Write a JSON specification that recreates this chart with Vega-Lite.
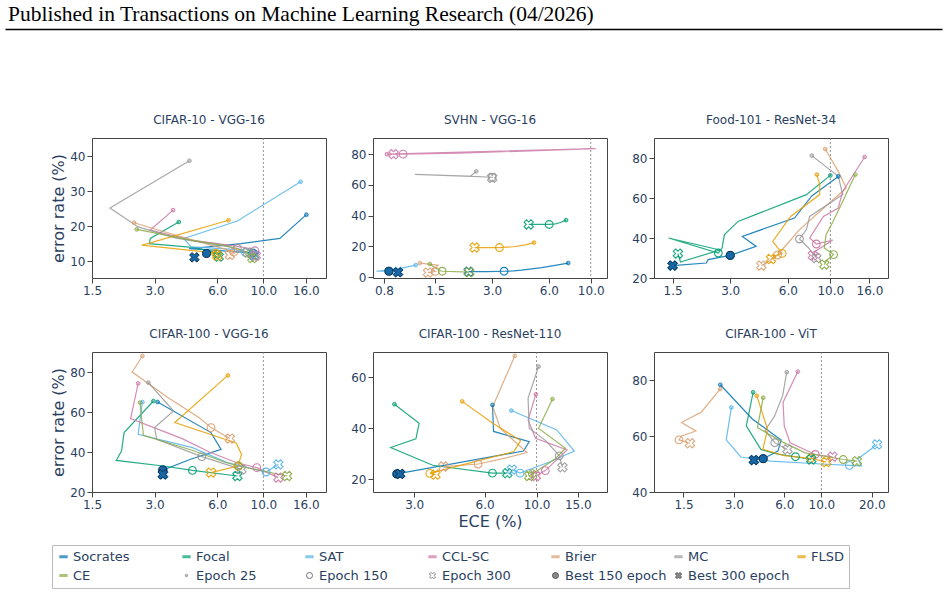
{
  "$schema": "https://vega.github.io/schema/vega-lite/v6.json",
  "padding": {"left": 5, "top": 3, "right": 5, "bottom": 4},
  "config": {
    "font": "DejaVu Sans",
    "view": {"stroke": "#444", "strokeWidth": 1},
    "axis": {"grid": false, "domain": false, "ticks": true, "tickSize": 5, "tickColor": "#444", "tickWidth": 1,
      "labelFont": "DejaVu Sans", "labelFontSize": 12, "labelColor": "#2a3f5f", "labelPadding": 2, "labelFlush": false, "labelOverlap": false,
      "titleFont": "DejaVu Sans", "titleFontSize": 16, "titleFontWeight": "normal", "titleColor": "#2a3f5f", "titlePadding": 3},
    "title": {"font": "DejaVu Sans", "fontSize": 12, "fontWeight": "normal", "color": "#2a3f5f", "offset": 11, "baseline": "alphabetic"},
    "legend": {"labelFont": "DejaVu Sans", "labelFontSize": 13, "labelColor": "#2a3f5f"}
  },
  "datasets": {
    "ref": [{"ece": 10}],
    "best": [
      {"p": 1, "kind": "b150", "ece": 5.33, "err": 12.2}, {"p": 1, "kind": "b300", "ece": 4.66, "err": 11.1},
      {"p": 2, "kind": "b150", "ece": 0.85, "err": 3.9}, {"p": 2, "kind": "b300", "ece": 0.95, "err": 3.2},
      {"p": 3, "kind": "b150", "ece": 3.0, "err": 31.3}, {"p": 3, "kind": "b300", "ece": 1.5, "err": 26.2},
      {"p": 4, "kind": "b150", "ece": 3.28, "err": 31.0}, {"p": 4, "kind": "b300", "ece": 3.28, "err": 28.8},
      {"p": 5, "kind": "b150", "ece": 2.53, "err": 22.1}, {"p": 5, "kind": "b300", "ece": 2.61, "err": 22.1},
      {"p": 6, "kind": "b150", "ece": 4.49, "err": 51.9}, {"p": 6, "kind": "b300", "ece": 3.95, "err": 51.4}
    ],
    "runs": [
      {"p":1,"m":"Socrates","ep":25,"ece":16.1,"err":23.3},{"p":1,"m":"Socrates","ep":50,"ece":12.0,"err":16.5},{"p":1,"m":"Socrates","ep":75,"ece":7.8,"err":15.0},{"p":1,"m":"Socrates","ep":100,"ece":5.0,"err":13.9},{"p":1,"m":"Socrates","ep":125,"ece":4.4,"err":13.6},{"p":1,"m":"Socrates","ep":150,"ece":8.9,"err":12.4},{"p":1,"m":"Socrates","ep":200,"ece":9.2,"err":12.0},{"p":1,"m":"Socrates","ep":300,"ece":9.0,"err":11.7},
      {"p":1,"m":"Focal","ep":25,"ece":3.92,"err":21.2},{"p":1,"m":"Focal","ep":50,"ece":2.86,"err":16.5},{"p":1,"m":"Focal","ep":75,"ece":2.83,"err":15.0},{"p":1,"m":"Focal","ep":100,"ece":4.7,"err":13.9},{"p":1,"m":"Focal","ep":125,"ece":5.6,"err":12.8},{"p":1,"m":"Focal","ep":150,"ece":6.0,"err":12.0},{"p":1,"m":"Focal","ep":200,"ece":6.1,"err":11.7},{"p":1,"m":"Focal","ep":300,"ece":6.1,"err":11.3},
      {"p":1,"m":"SAT","ep":25,"ece":15.1,"err":32.7},{"p":1,"m":"SAT","ep":50,"ece":7.5,"err":21.5},{"p":1,"m":"SAT","ep":75,"ece":4.14,"err":16.5},{"p":1,"m":"SAT","ep":100,"ece":4.5,"err":14.1},{"p":1,"m":"SAT","ep":125,"ece":7.2,"err":13.4},{"p":1,"m":"SAT","ep":150,"ece":8.2,"err":12.5},{"p":1,"m":"SAT","ep":200,"ece":8.6,"err":12.0},{"p":1,"m":"SAT","ep":300,"ece":9.0,"err":11.6},
      {"p":1,"m":"CCL-SC","ep":25,"ece":3.68,"err":24.6},{"p":1,"m":"CCL-SC","ep":50,"ece":2.86,"err":18.9},{"p":1,"m":"CCL-SC","ep":75,"ece":4.5,"err":16.0},{"p":1,"m":"CCL-SC","ep":100,"ece":7.4,"err":14.3},{"p":1,"m":"CCL-SC","ep":125,"ece":8.6,"err":13.6},{"p":1,"m":"CCL-SC","ep":150,"ece":9.1,"err":13.0},{"p":1,"m":"CCL-SC","ep":200,"ece":9.3,"err":12.2},{"p":1,"m":"CCL-SC","ep":300,"ece":9.2,"err":11.6},
      {"p":1,"m":"Brier","ep":25,"ece":2.39,"err":21.0},{"p":1,"m":"Brier","ep":50,"ece":3.3,"err":18.5},{"p":1,"m":"Brier","ep":75,"ece":4.5,"err":16.2},{"p":1,"m":"Brier","ep":100,"ece":5.8,"err":14.3},{"p":1,"m":"Brier","ep":125,"ece":6.8,"err":13.2},{"p":1,"m":"Brier","ep":150,"ece":7.2,"err":12.6},{"p":1,"m":"Brier","ep":200,"ece":7.0,"err":12.2},{"p":1,"m":"Brier","ep":300,"ece":6.9,"err":11.8},
      {"p":1,"m":"MC","ep":25,"ece":4.41,"err":38.7},{"p":1,"m":"MC","ep":50,"ece":1.83,"err":25.2},{"p":1,"m":"MC","ep":75,"ece":2.5,"err":19.8},{"p":1,"m":"MC","ep":100,"ece":3.8,"err":16.6},{"p":1,"m":"MC","ep":125,"ece":5.8,"err":14.8},{"p":1,"m":"MC","ep":150,"ece":7.5,"err":13.7},{"p":1,"m":"MC","ep":200,"ece":8.0,"err":13.0},{"p":1,"m":"MC","ep":300,"ece":8.4,"err":12.5},
      {"p":1,"m":"FLSD","ep":25,"ece":6.8,"err":21.7},{"p":1,"m":"FLSD","ep":50,"ece":2.7,"err":14.8},{"p":1,"m":"FLSD","ep":75,"ece":2.6,"err":14.6},{"p":1,"m":"FLSD","ep":100,"ece":4.45,"err":13.1},{"p":1,"m":"FLSD","ep":125,"ece":5.4,"err":12.6},{"p":1,"m":"FLSD","ep":150,"ece":5.9,"err":12.2},{"p":1,"m":"FLSD","ep":200,"ece":6.0,"err":11.9},{"p":1,"m":"FLSD","ep":300,"ece":6.0,"err":11.6},
      {"p":1,"m":"CE","ep":25,"ece":2.46,"err":19.1},{"p":1,"m":"CE","ep":50,"ece":3.3,"err":17.6},{"p":1,"m":"CE","ep":75,"ece":4.6,"err":15.9},{"p":1,"m":"CE","ep":100,"ece":6.5,"err":14.5},{"p":1,"m":"CE","ep":125,"ece":7.8,"err":13.2},{"p":1,"m":"CE","ep":150,"ece":8.6,"err":12.1},{"p":1,"m":"CE","ep":200,"ece":8.8,"err":11.5},{"p":1,"m":"CE","ep":300,"ece":8.85,"err":10.9},

      {"p":2,"m":"Socrates","ep":25,"ece":7.6,"err":9.2},{"p":2,"m":"Socrates","ep":50,"ece":5.5,"err":6.2},{"p":2,"m":"Socrates","ep":75,"ece":4.3,"err":4.6},{"p":2,"m":"Socrates","ep":100,"ece":3.9,"err":4.1},{"p":2,"m":"Socrates","ep":150,"ece":3.47,"err":3.9},{"p":2,"m":"Socrates","ep":200,"ece":2.8,"err":3.7},{"p":2,"m":"Socrates","ep":300,"ece":2.25,"err":3.6},
      {"p":2,"m":"Focal","ep":25,"ece":7.4,"err":37.1},{"p":2,"m":"Focal","ep":50,"ece":6.9,"err":35.6},{"p":2,"m":"Focal","ep":100,"ece":6.5,"err":34.7},{"p":2,"m":"Focal","ep":150,"ece":6.02,"err":34.3},{"p":2,"m":"Focal","ep":300,"ece":4.69,"err":34.3},
      {"p":2,"m":"SAT","ep":25,"ece":1.18,"err":7.9},{"p":2,"m":"SAT","ep":50,"ece":0.98,"err":5.8},{"p":2,"m":"SAT","ep":75,"ece":0.73,"err":3.9},{"p":2,"m":"SAT","ep":100,"ece":0.78,"err":3.9},{"p":2,"m":"SAT","ep":150,"ece":0.85,"err":3.9},{"p":2,"m":"SAT","ep":300,"ece":0.95,"err":3.4},
      {"p":2,"m":"CCL-SC","ep":25,"ece":0.83,"err":80.0},{"p":2,"m":"CCL-SC","ep":50,"ece":10.6,"err":83.6},{"p":2,"m":"CCL-SC","ep":75,"ece":2.0,"err":80.6},{"p":2,"m":"CCL-SC","ep":100,"ece":1.2,"err":80.2},{"p":2,"m":"CCL-SC","ep":150,"ece":1.01,"err":80.0},{"p":2,"m":"CCL-SC","ep":300,"ece":0.9,"err":80.0},
      {"p":2,"m":"Brier","ep":25,"ece":1.24,"err":9.2},{"p":2,"m":"Brier","ep":50,"ece":1.55,"err":7.8},{"p":2,"m":"Brier","ep":75,"ece":1.45,"err":5.0},{"p":2,"m":"Brier","ep":150,"ece":1.5,"err":3.8},{"p":2,"m":"Brier","ep":300,"ece":1.37,"err":3.0},
      {"p":2,"m":"MC","ep":25,"ece":2.47,"err":68.8},{"p":2,"m":"MC","ep":50,"ece":2.3,"err":65.6},{"p":2,"m":"MC","ep":75,"ece":1.17,"err":66.9},{"p":2,"m":"MC","ep":100,"ece":2.2,"err":65.7},{"p":2,"m":"MC","ep":150,"ece":3.0,"err":65.0},{"p":2,"m":"MC","ep":300,"ece":3.0,"err":64.6},
      {"p":2,"m":"FLSD","ep":25,"ece":5.0,"err":22.5},{"p":2,"m":"FLSD","ep":50,"ece":4.5,"err":21.0},{"p":2,"m":"FLSD","ep":100,"ece":3.9,"err":19.8},{"p":2,"m":"FLSD","ep":150,"ece":3.28,"err":19.3},{"p":2,"m":"FLSD","ep":300,"ece":2.42,"err":19.3},
      {"p":2,"m":"CE","ep":25,"ece":1.4,"err":8.6},{"p":2,"m":"CE","ep":50,"ece":1.5,"err":6.0},{"p":2,"m":"CE","ep":100,"ece":1.6,"err":4.2},{"p":2,"m":"CE","ep":150,"ece":1.63,"err":3.9},{"p":2,"m":"CE","ep":300,"ece":2.27,"err":3.3},

      {"p":3,"m":"Socrates","ep":25,"ece":11.0,"err":70.8},{"p":3,"m":"Socrates","ep":50,"ece":8.0,"err":61.0},{"p":3,"m":"Socrates","ep":75,"ece":6.5,"err":50.0},{"p":3,"m":"Socrates","ep":100,"ece":3.47,"err":40.8},{"p":3,"m":"Socrates","ep":125,"ece":4.1,"err":35.8},{"p":3,"m":"Socrates","ep":150,"ece":3.0,"err":31.3},{"p":3,"m":"Socrates","ep":200,"ece":2.3,"err":29.2},{"p":3,"m":"Socrates","ep":250,"ece":2.25,"err":27.5},{"p":3,"m":"Socrates","ep":300,"ece":1.5,"err":26.2},
      {"p":3,"m":"Focal","ep":25,"ece":10.0,"err":71.3},{"p":3,"m":"Focal","ep":50,"ece":7.5,"err":61.7},{"p":3,"m":"Focal","ep":75,"ece":3.3,"err":48.3},{"p":3,"m":"Focal","ep":100,"ece":2.8,"err":41.7},{"p":3,"m":"Focal","ep":125,"ece":2.72,"err":35.0},{"p":3,"m":"Focal","ep":150,"ece":2.6,"err":32.5},{"p":3,"m":"Focal","ep":175,"ece":1.43,"err":40.0},{"p":3,"m":"Focal","ep":200,"ece":2.65,"err":34.0},{"p":3,"m":"Focal","ep":250,"ece":1.65,"err":28.0},{"p":3,"m":"Focal","ep":300,"ece":1.6,"err":32.2},
      {"p":3,"m":"FLSD","ep":25,"ece":8.5,"err":71.7},{"p":3,"m":"FLSD","ep":50,"ece":8.8,"err":66.7},{"p":3,"m":"FLSD","ep":75,"ece":8.8,"err":61.7},{"p":3,"m":"FLSD","ep":100,"ece":6.2,"err":50.8},{"p":3,"m":"FLSD","ep":125,"ece":5.0,"err":38.3},{"p":3,"m":"FLSD","ep":150,"ece":5.6,"err":32.3},{"p":3,"m":"FLSD","ep":200,"ece":5.1,"err":31.0},{"p":3,"m":"FLSD","ep":300,"ece":4.9,"err":29.5},
      {"p":3,"m":"Brier","ep":25,"ece":9.4,"err":84.5},{"p":3,"m":"Brier","ep":50,"ece":11.0,"err":73.3},{"p":3,"m":"Brier","ep":75,"ece":12.1,"err":65.0},{"p":3,"m":"Brier","ep":100,"ece":6.9,"err":44.2},{"p":3,"m":"Brier","ep":125,"ece":5.7,"err":35.0},{"p":3,"m":"Brier","ep":150,"ece":5.3,"err":31.5},{"p":3,"m":"Brier","ep":200,"ece":4.8,"err":28.5},{"p":3,"m":"Brier","ep":300,"ece":4.36,"err":26.2},
      {"p":3,"m":"MC","ep":25,"ece":8.0,"err":81.2},{"p":3,"m":"MC","ep":50,"ece":11.0,"err":70.8},{"p":3,"m":"MC","ep":75,"ece":11.6,"err":61.7},{"p":3,"m":"MC","ep":100,"ece":7.8,"err":50.8},{"p":3,"m":"MC","ep":125,"ece":7.5,"err":44.2},{"p":3,"m":"MC","ep":150,"ece":6.9,"err":39.5},{"p":3,"m":"MC","ep":200,"ece":7.7,"err":35.0},{"p":3,"m":"MC","ep":300,"ece":8.45,"err":30.0},
      {"p":3,"m":"CCL-SC","ep":25,"ece":15.1,"err":80.5},{"p":3,"m":"CCL-SC","ep":50,"ece":11.6,"err":63.3},{"p":3,"m":"CCL-SC","ep":75,"ece":11.0,"err":55.0},{"p":3,"m":"CCL-SC","ep":100,"ece":9.2,"err":50.8},{"p":3,"m":"CCL-SC","ep":125,"ece":7.8,"err":40.0},{"p":3,"m":"CCL-SC","ep":150,"ece":8.45,"err":37.0},{"p":3,"m":"CCL-SC","ep":200,"ece":10.3,"err":39.0},{"p":3,"m":"CCL-SC","ep":250,"ece":8.4,"err":33.5},{"p":3,"m":"CCL-SC","ep":300,"ece":8.1,"err":31.3},
      {"p":3,"m":"CE","ep":25,"ece":13.5,"err":71.7},{"p":3,"m":"CE","ep":50,"ece":11.6,"err":58.3},{"p":3,"m":"CE","ep":75,"ece":10.3,"err":48.0},{"p":3,"m":"CE","ep":100,"ece":9.5,"err":41.7},{"p":3,"m":"CE","ep":125,"ece":9.3,"err":35.0},{"p":3,"m":"CE","ep":150,"ece":10.4,"err":31.7},{"p":3,"m":"CE","ep":200,"ece":9.6,"err":29.0},{"p":3,"m":"CE","ep":300,"ece":9.3,"err":26.7},

      {"p":4,"m":"Socrates","ep":25,"ece":3.1,"err":65.0},{"p":4,"m":"Socrates","ep":50,"ece":5.6,"err":49.7},{"p":4,"m":"Socrates","ep":75,"ece":6.26,"err":41.3},{"p":4,"m":"Socrates","ep":100,"ece":4.5,"err":36.5},{"p":4,"m":"Socrates","ep":150,"ece":3.3,"err":31.0},{"p":4,"m":"Socrates","ep":300,"ece":3.3,"err":28.8},
      {"p":4,"m":"Focal","ep":25,"ece":2.96,"err":65.5},{"p":4,"m":"Focal","ep":50,"ece":2.14,"err":49.7},{"p":4,"m":"Focal","ep":75,"ece":2.08,"err":40.5},{"p":4,"m":"Focal","ep":100,"ece":1.96,"err":35.8},{"p":4,"m":"Focal","ep":125,"ece":3.3,"err":33.0},{"p":4,"m":"Focal","ep":150,"ece":4.56,"err":30.8},{"p":4,"m":"Focal","ep":300,"ece":7.5,"err":28.0},
      {"p":4,"m":"SAT","ep":25,"ece":2.62,"err":65.0},{"p":4,"m":"SAT","ep":50,"ece":2.5,"err":48.8},{"p":4,"m":"SAT","ep":75,"ece":4.56,"err":42.2},{"p":4,"m":"SAT","ep":100,"ece":6.7,"err":34.7},{"p":4,"m":"SAT","ep":150,"ece":10.3,"err":30.0},{"p":4,"m":"SAT","ep":300,"ece":11.8,"err":33.8},
      {"p":4,"m":"CCL-SC","ep":25,"ece":2.5,"err":74.3},{"p":4,"m":"CCL-SC","ep":50,"ece":2.3,"err":56.7},{"p":4,"m":"CCL-SC","ep":75,"ece":4.07,"err":46.7},{"p":4,"m":"CCL-SC","ep":100,"ece":5.5,"err":40.0},{"p":4,"m":"CCL-SC","ep":125,"ece":7.5,"err":34.5},{"p":4,"m":"CCL-SC","ep":150,"ece":9.3,"err":32.2},{"p":4,"m":"CCL-SC","ep":300,"ece":11.8,"err":27.2},
      {"p":4,"m":"Brier","ep":25,"ece":2.62,"err":88.0},{"p":4,"m":"Brier","ep":50,"ece":2.34,"err":80.0},{"p":4,"m":"Brier","ep":75,"ece":3.5,"err":67.0},{"p":4,"m":"Brier","ep":100,"ece":4.9,"err":57.2},{"p":4,"m":"Brier","ep":150,"ece":5.6,"err":52.2},{"p":4,"m":"Brier","ep":300,"ece":6.9,"err":46.7},
      {"p":4,"m":"MC","ep":25,"ece":2.8,"err":74.7},{"p":4,"m":"MC","ep":50,"ece":3.7,"err":60.5},{"p":4,"m":"MC","ep":75,"ece":3.0,"err":52.2},{"p":4,"m":"MC","ep":100,"ece":3.07,"err":46.3},{"p":4,"m":"MC","ep":150,"ece":5.06,"err":37.7},{"p":4,"m":"MC","ep":300,"ece":7.85,"err":31.3},
      {"p":4,"m":"FLSD","ep":25,"ece":6.75,"err":78.3},{"p":4,"m":"FLSD","ep":50,"ece":3.75,"err":54.7},{"p":4,"m":"FLSD","ep":75,"ece":7.4,"err":44.5},{"p":4,"m":"FLSD","ep":100,"ece":7.85,"err":38.8},{"p":4,"m":"FLSD","ep":150,"ece":7.55,"err":33.0},{"p":4,"m":"FLSD","ep":300,"ece":5.6,"err":29.7},
      {"p":4,"m":"CE","ep":25,"ece":2.55,"err":64.7},{"p":4,"m":"CE","ep":50,"ece":2.65,"err":48.3},{"p":4,"m":"CE","ep":75,"ece":4.5,"err":41.0},{"p":4,"m":"CE","ep":100,"ece":6.5,"err":35.0},{"p":4,"m":"CE","ep":150,"ece":7.6,"err":33.0},{"p":4,"m":"CE","ep":300,"ece":13.0,"err":28.0},

      {"p":5,"m":"Socrates","ep":25,"ece":6.48,"err":49.2},{"p":5,"m":"Socrates","ep":50,"ece":6.55,"err":38.8},{"p":5,"m":"Socrates","ep":75,"ece":9.3,"err":34.8},{"p":5,"m":"Socrates","ep":100,"ece":8.8,"err":31.1},{"p":5,"m":"Socrates","ep":150,"ece":2.53,"err":22.1},{"p":5,"m":"Socrates","ep":300,"ece":2.61,"err":22.1},
      {"p":5,"m":"Focal","ep":25,"ece":2.47,"err":49.5},{"p":5,"m":"Focal","ep":50,"ece":3.15,"err":42.0},{"p":5,"m":"Focal","ep":75,"ece":3.05,"err":35.9},{"p":5,"m":"Focal","ep":100,"ece":2.38,"err":32.5},{"p":5,"m":"Focal","ep":125,"ece":3.6,"err":25.5},{"p":5,"m":"Focal","ep":150,"ece":6.48,"err":22.4},{"p":5,"m":"Focal","ep":300,"ece":7.5,"err":22.4},
      {"p":5,"m":"SAT","ep":25,"ece":7.8,"err":47.0},{"p":5,"m":"SAT","ep":50,"ece":12.2,"err":39.4},{"p":5,"m":"SAT","ep":75,"ece":14.5,"err":31.1},{"p":5,"m":"SAT","ep":100,"ece":11.5,"err":27.0},{"p":5,"m":"SAT","ep":150,"ece":8.5,"err":22.4},{"p":5,"m":"SAT","ep":300,"ece":7.85,"err":23.8},
      {"p":5,"m":"CCL-SC","ep":25,"ece":9.93,"err":53.4},{"p":5,"m":"CCL-SC","ep":50,"ece":9.2,"err":43.3},{"p":5,"m":"CCL-SC","ep":75,"ece":9.9,"err":36.1},{"p":5,"m":"CCL-SC","ep":100,"ece":13.5,"err":31.5},{"p":5,"m":"CCL-SC","ep":150,"ece":10.9,"err":23.4},{"p":5,"m":"CCL-SC","ep":300,"ece":9.93,"err":21.3},
      {"p":5,"m":"Brier","ep":25,"ece":8.08,"err":68.5},{"p":5,"m":"Brier","ep":50,"ece":6.5,"err":48.6},{"p":5,"m":"Brier","ep":75,"ece":7.0,"err":40.0},{"p":5,"m":"Brier","ep":100,"ece":9.1,"err":30.5},{"p":5,"m":"Brier","ep":125,"ece":7.5,"err":28.5},{"p":5,"m":"Brier","ep":150,"ece":5.63,"err":26.0},{"p":5,"m":"Brier","ep":300,"ece":4.0,"err":25.0},
      {"p":5,"m":"MC","ep":25,"ece":10.2,"err":64.3},{"p":5,"m":"MC","ep":50,"ece":9.2,"err":51.9},{"p":5,"m":"MC","ep":75,"ece":9.3,"err":40.1},{"p":5,"m":"MC","ep":100,"ece":11.0,"err":35.0},{"p":5,"m":"MC","ep":150,"ece":12.5,"err":29.2},{"p":5,"m":"MC","ep":300,"ece":12.9,"err":24.7},
      {"p":5,"m":"FLSD","ep":25,"ece":4.81,"err":50.6},{"p":5,"m":"FLSD","ep":50,"ece":6.5,"err":42.0},{"p":5,"m":"FLSD","ep":75,"ece":8.55,"err":35.2},{"p":5,"m":"FLSD","ep":100,"ece":8.0,"err":30.9},{"p":5,"m":"FLSD","ep":125,"ece":5.5,"err":27.0},{"p":5,"m":"FLSD","ep":150,"ece":3.5,"err":22.3},{"p":5,"m":"FLSD","ep":300,"ece":3.7,"err":21.8},
      {"p":5,"m":"CE","ep":25,"ece":11.7,"err":51.5},{"p":5,"m":"CE","ep":50,"ece":10.2,"err":40.0},{"p":5,"m":"CE","ep":75,"ece":13.3,"err":32.2},{"p":5,"m":"CE","ep":100,"ece":12.0,"err":28.0},{"p":5,"m":"CE","ep":150,"ece":9.6,"err":22.2},{"p":5,"m":"CE","ep":300,"ece":9.3,"err":21.3},

      {"p":6,"m":"Socrates","ep":25,"ece":2.49,"err":78.3},{"p":6,"m":"Socrates","ep":50,"ece":3.88,"err":66.0},{"p":6,"m":"Socrates","ep":75,"ece":5.74,"err":58.6},{"p":6,"m":"Socrates","ep":100,"ece":5.5,"err":54.6},{"p":6,"m":"Socrates","ep":150,"ece":4.49,"err":51.9},{"p":6,"m":"Socrates","ep":300,"ece":3.95,"err":51.4},
      {"p":6,"m":"Focal","ep":25,"ece":3.91,"err":75.6},{"p":6,"m":"Focal","ep":50,"ece":3.56,"err":63.6},{"p":6,"m":"Focal","ep":75,"ece":4.35,"err":55.2},{"p":6,"m":"Focal","ep":100,"ece":5.5,"err":53.5},{"p":6,"m":"Focal","ep":150,"ece":7.0,"err":52.6},{"p":6,"m":"Focal","ep":300,"ece":8.7,"err":51.6},
      {"p":6,"m":"SAT","ep":25,"ece":2.9,"err":70.2},{"p":6,"m":"SAT","ep":50,"ece":2.7,"err":58.6},{"p":6,"m":"SAT","ep":75,"ece":3.3,"err":52.5},{"p":6,"m":"SAT","ep":100,"ece":5.0,"err":51.0},{"p":6,"m":"SAT","ep":125,"ece":10.0,"err":50.0},{"p":6,"m":"SAT","ep":150,"ece":14.7,"err":49.5},{"p":6,"m":"SAT","ep":200,"ece":17.4,"err":49.3},{"p":6,"m":"SAT","ep":250,"ece":16.5,"err":51.8},{"p":6,"m":"SAT","ep":300,"ece":21.5,"err":57.0},
      {"p":6,"m":"CCL-SC","ep":25,"ece":7.23,"err":83.0},{"p":6,"m":"CCL-SC","ep":50,"ece":5.9,"err":72.0},{"p":6,"m":"CCL-SC","ep":75,"ece":6.0,"err":63.6},{"p":6,"m":"CCL-SC","ep":100,"ece":6.5,"err":57.6},{"p":6,"m":"CCL-SC","ep":150,"ece":9.2,"err":53.4},{"p":6,"m":"CCL-SC","ep":300,"ece":11.65,"err":52.6},
      {"p":6,"m":"Brier","ep":25,"ece":2.49,"err":76.8},{"p":6,"m":"Brier","ep":50,"ece":1.92,"err":68.6},{"p":6,"m":"Brier","ep":75,"ece":1.46,"err":64.8},{"p":6,"m":"Brier","ep":100,"ece":1.78,"err":61.8},{"p":6,"m":"Brier","ep":125,"ece":1.46,"err":60.0},{"p":6,"m":"Brier","ep":150,"ece":1.41,"err":58.6},{"p":6,"m":"Brier","ep":300,"ece":1.64,"err":57.4},
      {"p":6,"m":"MC","ep":25,"ece":6.21,"err":82.8},{"p":6,"m":"MC","ep":50,"ece":5.87,"err":74.4},{"p":6,"m":"MC","ep":75,"ece":5.23,"err":66.9},{"p":6,"m":"MC","ep":100,"ece":4.6,"err":62.0},{"p":6,"m":"MC","ep":150,"ece":5.27,"err":57.6},{"p":6,"m":"MC","ep":300,"ece":6.27,"err":55.2},
      {"p":6,"m":"FLSD","ep":25,"ece":4.11,"err":74.4},{"p":6,"m":"FLSD","ep":50,"ece":4.77,"err":62.4},{"p":6,"m":"FLSD","ep":75,"ece":4.47,"err":55.2},{"p":6,"m":"FLSD","ep":100,"ece":6.0,"err":53.0},{"p":6,"m":"FLSD","ep":150,"ece":8.6,"err":52.0},{"p":6,"m":"FLSD","ep":300,"ece":10.7,"err":50.7},
      {"p":6,"m":"CE","ep":25,"ece":4.49,"err":73.7},{"p":6,"m":"CE","ep":50,"ece":4.15,"err":63.0},{"p":6,"m":"CE","ep":75,"ece":5.8,"err":58.0},{"p":6,"m":"CE","ep":100,"ece":8.0,"err":54.0},{"p":6,"m":"CE","ep":150,"ece":13.5,"err":51.6},{"p":6,"m":"CE","ep":300,"ece":16.3,"err":51.0}
    ]
  },
  "spacing": 30,
  "vconcat": [
    {
      "width": 937, "height": 54, "view": {"stroke": null},
      "title": {"text": "Published in Transactions on Machine Learning Research (04/2026)", "anchor": "start", "font": "Liberation Serif", "fontSize": 21.5, "fontWeight": "normal", "color": "#000000", "offset": -13, "baseline": "alphabetic", "dx": 3},
      "data": {"values": []},
      "mark": "point",
      "encoding": {"x": {"field": "v", "type": "quantitative", "scale": {"domain": [0, 1]}, "axis": {"orient": "top", "domain": true, "domainColor": "#000000", "domainWidth": 1.3, "ticks": false, "labels": false, "grid": false, "title": null, "minExtent": 0, "maxExtent": 0, "offset": 0}}}
    },
    {
      "spacing": 47, "bounds": "flush",
      "hconcat": [
        {"width": 40, "height": 140, "view": {"stroke": null}, "data": {"values": []}, "mark": "point"},
        {
          "width": 234, "height": 140, "title": {"text": "CIFAR-10 - VGG-16"},
          "encoding": {"x": {"field": "ece", "type": "quantitative", "scale": {"type": "log", "domain": [1.5, 20], "nice": false}, "axis": {"values": [1.5, 3, 6, 10, 16], "format": ".1f", "title": null}}},
          "layer": [
            {"data": {"name": "ref"}, "mark": {"type": "rule", "color": "#777777", "strokeDash": [2, 2], "strokeWidth": 0.8}},
            {"data": {"name": "runs"}, "transform": [{"filter": "datum.p == 1"}],
              "encoding": {"y": {"field": "err", "type": "quantitative", "scale": {"domain": [5.2, 45.2], "nice": false, "zero": false}, "axis": {"values": [10, 20, 30, 40], "title": "error rate (%)"}},
                "color": {"field": "m", "type": "nominal", "legend": null, "scale": {"domain": ["Socrates", "Focal", "SAT", "CCL-SC", "Brier", "MC", "FLSD", "CE"], "range": ["#0072B2", "#009E73", "#56B4E9", "#CC79A7", "#D9A072", "#999999", "#E69F00", "#8AAA45"]}}},
              "layer": [
                {"mark": {"type": "line", "strokeWidth": 1.2, "opacity": 0.85}, "encoding": {"order": {"field": "ep", "type": "quantitative"}}},
                {"transform": [{"filter": "datum.ep == 25"}], "mark": {"type": "point", "filled": true, "size": 14, "opacity": 0.45, "strokeWidth": 0}},
                {"transform": [{"filter": "datum.ep == 25"}], "mark": {"type": "point", "filled": false, "size": 14, "strokeWidth": 0.9, "opacity": 0.9}},
                {"transform": [{"filter": "datum.ep == 150"}], "mark": {"type": "point", "shape": "circle", "filled": false, "size": 60, "strokeWidth": 1.1, "opacity": 0.9}},
                {"transform": [{"filter": "datum.ep == 300"}], "mark": {"type": "point", "shape": "M0.955,-0.46L0.495,0L0.955,0.46L0.46,0.955L0,0.495L-0.46,0.955L-0.955,0.46L-0.495,0L-0.955,-0.46L-0.46,-0.955L0,-0.495L0.46,-0.955Z", "filled": false, "size": 95, "strokeWidth": 1.1, "opacity": 0.9}}
              ]},
            {"data": {"name": "best"}, "transform": [{"filter": "datum.p == 1"}],
              "encoding": {"y": {"field": "err", "type": "quantitative", "scale": {"domain": [5.2, 45.2], "nice": false, "zero": false}, "axis": {"values": [10, 20, 30, 40], "title": "error rate (%)"}}},
              "layer": [
                {"transform": [{"filter": "datum.kind == 'b150'"}], "mark": {"type": "point", "shape": "circle", "filled": true, "size": 65, "fill": "#1868a6", "stroke": "#0b2f4d", "strokeWidth": 1, "opacity": 1}},
                {"transform": [{"filter": "datum.kind == 'b300'"}], "mark": {"type": "point", "shape": "M0.955,-0.46L0.495,0L0.955,0.46L0.46,0.955L0,0.495L-0.46,0.955L-0.955,0.46L-0.495,0L-0.955,-0.46L-0.46,-0.955L0,-0.495L0.46,-0.955Z", "filled": true, "size": 100, "fill": "#1868a6", "stroke": "#0b2f4d", "strokeWidth": 1, "opacity": 1}}
              ]}
          ]
        },
        {
          "width": 234, "height": 140, "title": {"text": "SVHN - VGG-16"},
          "encoding": {"x": {"field": "ece", "type": "quantitative", "scale": {"type": "log", "domain": [0.7, 12.2], "nice": false}, "axis": {"values": [0.8, 1.5, 3, 6, 10], "format": ".1f", "title": null}}},
          "layer": [
            {"data": {"name": "ref"}, "mark": {"type": "rule", "color": "#777777", "strokeDash": [2, 2], "strokeWidth": 0.8}},
            {"data": {"name": "runs"}, "transform": [{"filter": "datum.p == 2"}],
              "encoding": {"y": {"field": "err", "type": "quantitative", "scale": {"domain": [-0.5, 90.5], "nice": false, "zero": false}, "axis": {"values": [0, 20, 40, 60, 80], "title": null}},
                "color": {"field": "m", "type": "nominal", "legend": null, "scale": {"domain": ["Socrates", "Focal", "SAT", "CCL-SC", "Brier", "MC", "FLSD", "CE"], "range": ["#0072B2", "#009E73", "#56B4E9", "#CC79A7", "#D9A072", "#999999", "#E69F00", "#8AAA45"]}}},
              "layer": [
                {"mark": {"type": "line", "strokeWidth": 1.2, "opacity": 0.85}, "encoding": {"order": {"field": "ep", "type": "quantitative"}}},
                {"transform": [{"filter": "datum.ep == 25"}], "mark": {"type": "point", "filled": true, "size": 14, "opacity": 0.45, "strokeWidth": 0}},
                {"transform": [{"filter": "datum.ep == 25"}], "mark": {"type": "point", "filled": false, "size": 14, "strokeWidth": 0.9, "opacity": 0.9}},
                {"transform": [{"filter": "datum.ep == 150"}], "mark": {"type": "point", "shape": "circle", "filled": false, "size": 60, "strokeWidth": 1.1, "opacity": 0.9}},
                {"transform": [{"filter": "datum.ep == 300"}], "mark": {"type": "point", "shape": "M0.955,-0.46L0.495,0L0.955,0.46L0.46,0.955L0,0.495L-0.46,0.955L-0.955,0.46L-0.495,0L-0.955,-0.46L-0.46,-0.955L0,-0.495L0.46,-0.955Z", "filled": false, "size": 95, "strokeWidth": 1.1, "opacity": 0.9}}
              ]},
            {"data": {"name": "best"}, "transform": [{"filter": "datum.p == 2"}],
              "encoding": {"y": {"field": "err", "type": "quantitative", "scale": {"domain": [-0.5, 90.5], "nice": false, "zero": false}, "axis": {"values": [0, 20, 40, 60, 80], "title": null}}},
              "layer": [
                {"transform": [{"filter": "datum.kind == 'b150'"}], "mark": {"type": "point", "shape": "circle", "filled": true, "size": 65, "fill": "#1868a6", "stroke": "#0b2f4d", "strokeWidth": 1, "opacity": 1}},
                {"transform": [{"filter": "datum.kind == 'b300'"}], "mark": {"type": "point", "shape": "M0.955,-0.46L0.495,0L0.955,0.46L0.46,0.955L0,0.495L-0.46,0.955L-0.955,0.46L-0.495,0L-0.955,-0.46L-0.46,-0.955L0,-0.495L0.46,-0.955Z", "filled": true, "size": 100, "fill": "#1868a6", "stroke": "#0b2f4d", "strokeWidth": 1, "opacity": 1}}
              ]}
          ]
        },
        {
          "width": 234, "height": 140, "title": {"text": "Food-101 - ResNet-34"},
          "encoding": {"x": {"field": "ece", "type": "quantitative", "scale": {"type": "log", "domain": [1.2, 20], "nice": false}, "axis": {"values": [1.5, 3, 6, 10, 16], "format": ".1f", "title": null}}},
          "layer": [
            {"data": {"name": "ref"}, "mark": {"type": "rule", "color": "#777777", "strokeDash": [2, 2], "strokeWidth": 0.8}},
            {"data": {"name": "runs"}, "transform": [{"filter": "datum.p == 3"}],
              "encoding": {"y": {"field": "err", "type": "quantitative", "scale": {"domain": [20, 90], "nice": false, "zero": false}, "axis": {"values": [20, 40, 60, 80], "title": null}},
                "color": {"field": "m", "type": "nominal", "legend": null, "scale": {"domain": ["Socrates", "Focal", "SAT", "CCL-SC", "Brier", "MC", "FLSD", "CE"], "range": ["#0072B2", "#009E73", "#56B4E9", "#CC79A7", "#D9A072", "#999999", "#E69F00", "#8AAA45"]}}},
              "layer": [
                {"mark": {"type": "line", "strokeWidth": 1.2, "opacity": 0.85}, "encoding": {"order": {"field": "ep", "type": "quantitative"}}},
                {"transform": [{"filter": "datum.ep == 25"}], "mark": {"type": "point", "filled": true, "size": 14, "opacity": 0.45, "strokeWidth": 0}},
                {"transform": [{"filter": "datum.ep == 25"}], "mark": {"type": "point", "filled": false, "size": 14, "strokeWidth": 0.9, "opacity": 0.9}},
                {"transform": [{"filter": "datum.ep == 150"}], "mark": {"type": "point", "shape": "circle", "filled": false, "size": 60, "strokeWidth": 1.1, "opacity": 0.9}},
                {"transform": [{"filter": "datum.ep == 300"}], "mark": {"type": "point", "shape": "M0.955,-0.46L0.495,0L0.955,0.46L0.46,0.955L0,0.495L-0.46,0.955L-0.955,0.46L-0.495,0L-0.955,-0.46L-0.46,-0.955L0,-0.495L0.46,-0.955Z", "filled": false, "size": 95, "strokeWidth": 1.1, "opacity": 0.9}}
              ]},
            {"data": {"name": "best"}, "transform": [{"filter": "datum.p == 3"}],
              "encoding": {"y": {"field": "err", "type": "quantitative", "scale": {"domain": [20, 90], "nice": false, "zero": false}, "axis": {"values": [20, 40, 60, 80], "title": null}}},
              "layer": [
                {"transform": [{"filter": "datum.kind == 'b150'"}], "mark": {"type": "point", "shape": "circle", "filled": true, "size": 65, "fill": "#1868a6", "stroke": "#0b2f4d", "strokeWidth": 1, "opacity": 1}},
                {"transform": [{"filter": "datum.kind == 'b300'"}], "mark": {"type": "point", "shape": "M0.955,-0.46L0.495,0L0.955,0.46L0.46,0.955L0,0.495L-0.46,0.955L-0.955,0.46L-0.495,0L-0.955,-0.46L-0.46,-0.955L0,-0.495L0.46,-0.955Z", "filled": true, "size": 100, "fill": "#1868a6", "stroke": "#0b2f4d", "strokeWidth": 1, "opacity": 1}}
              ]}
          ]
        }
      ]
    },
    {
      "spacing": 47, "bounds": "flush",
      "hconcat": [
        {
          "width": 40, "height": 140, "view": {"stroke": null}, "data": {"values": []}, "mark": "point",
          "encoding": {
            "stroke": {"field": "entry", "type": "nominal",
              "scale": {"domain": ["Socrates", "Focal", "SAT", "CCL-SC", "Brier", "MC", "FLSD", "CE", "Epoch 25", "Epoch 150", "Epoch 300", "Best 150 epoch", "Best 300 epoch"],
                "range": ["#0072B2", "#009E73", "#56B4E9", "#CC79A7", "#D9A072", "#999999", "#E69F00", "#8AAA45", "#666666", "#333333", "#555555", "#111111", "#111111"]},
              "legend": {"title": null, "orient": "none", "direction": "horizontal", "legendX": 47, "legendY": 516, "columns": 7, "gridAlign": "all", "columnPadding": 1, "rowPadding": 5, "padding": 5, "strokeColor": "#bbbbbb", "fillColor": "#ffffff", "labelOffset": 3}},
            "fill": {"field": "entry", "type": "nominal",
              "scale": {"domain": ["Socrates", "Focal", "SAT", "CCL-SC", "Brier", "MC", "FLSD", "CE", "Epoch 25", "Epoch 150", "Epoch 300", "Best 150 epoch", "Best 300 epoch"],
                "range": ["transparent", "transparent", "transparent", "transparent", "transparent", "transparent", "transparent", "transparent", "#777777", "transparent", "transparent", "#111111", "#111111"]},
              "legend": {"title": null, "orient": "none", "direction": "horizontal", "legendX": 47, "legendY": 516, "columns": 7, "gridAlign": "all", "columnPadding": 1, "rowPadding": 5, "padding": 5, "strokeColor": "#bbbbbb", "fillColor": "#ffffff", "labelOffset": 3}},
            "size": {"field": "entry", "type": "nominal",
              "scale": {"type": "ordinal", "domain": ["Socrates", "Focal", "SAT", "CCL-SC", "Brier", "MC", "FLSD", "CE", "Epoch 25", "Epoch 150", "Epoch 300", "Best 150 epoch", "Best 300 epoch"],
                "range": [70, 70, 70, 70, 70, 70, 70, 70, 6, 36, 42, 36, 42]},
              "legend": {"title": null, "orient": "none", "direction": "horizontal", "legendX": 47, "legendY": 516, "columns": 7, "gridAlign": "all", "columnPadding": 1, "rowPadding": 5, "padding": 5, "strokeColor": "#bbbbbb", "fillColor": "#ffffff", "labelOffset": 3}},
            "strokeWidth": {"field": "entry", "type": "nominal",
              "scale": {"type": "ordinal", "domain": ["Socrates", "Focal", "SAT", "CCL-SC", "Brier", "MC", "FLSD", "CE", "Epoch 25", "Epoch 150", "Epoch 300", "Best 150 epoch", "Best 300 epoch"],
                "range": [3, 3, 3, 3, 3, 3, 3, 3, 0.8, 1, 1, 1, 1]},
              "legend": {"title": null, "orient": "none", "direction": "horizontal", "legendX": 47, "legendY": 516, "columns": 7, "gridAlign": "all", "columnPadding": 1, "rowPadding": 5, "padding": 5, "strokeColor": "#bbbbbb", "fillColor": "#ffffff", "labelOffset": 3}},
            "shape": {"field": "entry", "type": "nominal",
              "scale": {"domain": ["Socrates", "Focal", "SAT", "CCL-SC", "Brier", "MC", "FLSD", "CE", "Epoch 25", "Epoch 150", "Epoch 300", "Best 150 epoch", "Best 300 epoch"],
                "range": ["stroke", "stroke", "stroke", "stroke", "stroke", "stroke", "stroke", "stroke", "circle", "circle", "M0.955,-0.46L0.495,0L0.955,0.46L0.46,0.955L0,0.495L-0.46,0.955L-0.955,0.46L-0.495,0L-0.955,-0.46L-0.46,-0.955L0,-0.495L0.46,-0.955Z", "circle", "M0.955,-0.46L0.495,0L0.955,0.46L0.46,0.955L0,0.495L-0.46,0.955L-0.955,0.46L-0.495,0L-0.955,-0.46L-0.46,-0.955L0,-0.495L0.46,-0.955Z"]},
              "legend": {"title": null, "orient": "none", "direction": "horizontal", "legendX": 47, "legendY": 516, "columns": 7, "gridAlign": "all", "columnPadding": 1, "rowPadding": 5, "padding": 5, "strokeColor": "#bbbbbb", "fillColor": "#ffffff", "labelOffset": 3}}
          }
        },
        {
          "width": 234, "height": 140, "title": {"text": "CIFAR-100 - VGG-16"},
          "encoding": {"x": {"field": "ece", "type": "quantitative", "scale": {"type": "log", "domain": [1.5, 20], "nice": false}, "axis": {"values": [1.5, 3, 6, 10, 16], "format": ".1f", "title": null}}},
          "layer": [
            {"data": {"name": "ref"}, "mark": {"type": "rule", "color": "#777777", "strokeDash": [2, 2], "strokeWidth": 0.8}},
            {"data": {"name": "runs"}, "transform": [{"filter": "datum.p == 4"}],
              "encoding": {"y": {"field": "err", "type": "quantitative", "scale": {"domain": [20, 90], "nice": false, "zero": false}, "axis": {"values": [20, 40, 60, 80], "title": "error rate (%)"}},
                "color": {"field": "m", "type": "nominal", "legend": null, "scale": {"domain": ["Socrates", "Focal", "SAT", "CCL-SC", "Brier", "MC", "FLSD", "CE"], "range": ["#0072B2", "#009E73", "#56B4E9", "#CC79A7", "#D9A072", "#999999", "#E69F00", "#8AAA45"]}}},
              "layer": [
                {"mark": {"type": "line", "strokeWidth": 1.2, "opacity": 0.85}, "encoding": {"order": {"field": "ep", "type": "quantitative"}}},
                {"transform": [{"filter": "datum.ep == 25"}], "mark": {"type": "point", "filled": true, "size": 14, "opacity": 0.45, "strokeWidth": 0}},
                {"transform": [{"filter": "datum.ep == 25"}], "mark": {"type": "point", "filled": false, "size": 14, "strokeWidth": 0.9, "opacity": 0.9}},
                {"transform": [{"filter": "datum.ep == 150"}], "mark": {"type": "point", "shape": "circle", "filled": false, "size": 60, "strokeWidth": 1.1, "opacity": 0.9}},
                {"transform": [{"filter": "datum.ep == 300"}], "mark": {"type": "point", "shape": "M0.955,-0.46L0.495,0L0.955,0.46L0.46,0.955L0,0.495L-0.46,0.955L-0.955,0.46L-0.495,0L-0.955,-0.46L-0.46,-0.955L0,-0.495L0.46,-0.955Z", "filled": false, "size": 95, "strokeWidth": 1.1, "opacity": 0.9}}
              ]},
            {"data": {"name": "best"}, "transform": [{"filter": "datum.p == 4"}],
              "encoding": {"y": {"field": "err", "type": "quantitative", "scale": {"domain": [20, 90], "nice": false, "zero": false}, "axis": {"values": [20, 40, 60, 80], "title": "error rate (%)"}}},
              "layer": [
                {"transform": [{"filter": "datum.kind == 'b150'"}], "mark": {"type": "point", "shape": "circle", "filled": true, "size": 65, "fill": "#1868a6", "stroke": "#0b2f4d", "strokeWidth": 1, "opacity": 1}},
                {"transform": [{"filter": "datum.kind == 'b300'"}], "mark": {"type": "point", "shape": "M0.955,-0.46L0.495,0L0.955,0.46L0.46,0.955L0,0.495L-0.46,0.955L-0.955,0.46L-0.495,0L-0.955,-0.46L-0.46,-0.955L0,-0.495L0.46,-0.955Z", "filled": true, "size": 100, "fill": "#1868a6", "stroke": "#0b2f4d", "strokeWidth": 1, "opacity": 1}}
              ]}
          ]
        },
        {
          "width": 234, "height": 140, "title": {"text": "CIFAR-100 - ResNet-110"},
          "encoding": {"x": {"field": "ece", "type": "quantitative", "scale": {"type": "log", "domain": [2, 20], "nice": false}, "axis": {"values": [3, 6, 10, 15], "format": ".1f", "title": "ECE (%)"}}},
          "layer": [
            {"data": {"name": "ref"}, "mark": {"type": "rule", "color": "#777777", "strokeDash": [2, 2], "strokeWidth": 0.8}},
            {"data": {"name": "runs"}, "transform": [{"filter": "datum.p == 5"}],
              "encoding": {"y": {"field": "err", "type": "quantitative", "scale": {"domain": [15, 70], "nice": false, "zero": false}, "axis": {"values": [20, 40, 60], "title": null}},
                "color": {"field": "m", "type": "nominal", "legend": null, "scale": {"domain": ["Socrates", "Focal", "SAT", "CCL-SC", "Brier", "MC", "FLSD", "CE"], "range": ["#0072B2", "#009E73", "#56B4E9", "#CC79A7", "#D9A072", "#999999", "#E69F00", "#8AAA45"]}}},
              "layer": [
                {"mark": {"type": "line", "strokeWidth": 1.2, "opacity": 0.85}, "encoding": {"order": {"field": "ep", "type": "quantitative"}}},
                {"transform": [{"filter": "datum.ep == 25"}], "mark": {"type": "point", "filled": true, "size": 14, "opacity": 0.45, "strokeWidth": 0}},
                {"transform": [{"filter": "datum.ep == 25"}], "mark": {"type": "point", "filled": false, "size": 14, "strokeWidth": 0.9, "opacity": 0.9}},
                {"transform": [{"filter": "datum.ep == 150"}], "mark": {"type": "point", "shape": "circle", "filled": false, "size": 60, "strokeWidth": 1.1, "opacity": 0.9}},
                {"transform": [{"filter": "datum.ep == 300"}], "mark": {"type": "point", "shape": "M0.955,-0.46L0.495,0L0.955,0.46L0.46,0.955L0,0.495L-0.46,0.955L-0.955,0.46L-0.495,0L-0.955,-0.46L-0.46,-0.955L0,-0.495L0.46,-0.955Z", "filled": false, "size": 95, "strokeWidth": 1.1, "opacity": 0.9}}
              ]},
            {"data": {"name": "best"}, "transform": [{"filter": "datum.p == 5"}],
              "encoding": {"y": {"field": "err", "type": "quantitative", "scale": {"domain": [15, 70], "nice": false, "zero": false}, "axis": {"values": [20, 40, 60], "title": null}}},
              "layer": [
                {"transform": [{"filter": "datum.kind == 'b150'"}], "mark": {"type": "point", "shape": "circle", "filled": true, "size": 65, "fill": "#1868a6", "stroke": "#0b2f4d", "strokeWidth": 1, "opacity": 1}},
                {"transform": [{"filter": "datum.kind == 'b300'"}], "mark": {"type": "point", "shape": "M0.955,-0.46L0.495,0L0.955,0.46L0.46,0.955L0,0.495L-0.46,0.955L-0.955,0.46L-0.495,0L-0.955,-0.46L-0.46,-0.955L0,-0.495L0.46,-0.955Z", "filled": true, "size": 100, "fill": "#1868a6", "stroke": "#0b2f4d", "strokeWidth": 1, "opacity": 1}}
              ]}
          ]
        },
        {
          "width": 234, "height": 140, "title": {"text": "CIFAR-100 - ViT"},
          "encoding": {"x": {"field": "ece", "type": "quantitative", "scale": {"type": "log", "domain": [1, 25], "nice": false}, "axis": {"values": [1.5, 3, 6, 10, 20], "format": ".1f", "title": null}}},
          "layer": [
            {"data": {"name": "ref"}, "mark": {"type": "rule", "color": "#777777", "strokeDash": [2, 2], "strokeWidth": 0.8}},
            {"data": {"name": "runs"}, "transform": [{"filter": "datum.p == 6"}],
              "encoding": {"y": {"field": "err", "type": "quantitative", "scale": {"domain": [40, 90], "nice": false, "zero": false}, "axis": {"values": [40, 60, 80], "title": null}},
                "color": {"field": "m", "type": "nominal", "legend": null, "scale": {"domain": ["Socrates", "Focal", "SAT", "CCL-SC", "Brier", "MC", "FLSD", "CE"], "range": ["#0072B2", "#009E73", "#56B4E9", "#CC79A7", "#D9A072", "#999999", "#E69F00", "#8AAA45"]}}},
              "layer": [
                {"mark": {"type": "line", "strokeWidth": 1.2, "opacity": 0.85}, "encoding": {"order": {"field": "ep", "type": "quantitative"}}},
                {"transform": [{"filter": "datum.ep == 25"}], "mark": {"type": "point", "filled": true, "size": 14, "opacity": 0.45, "strokeWidth": 0}},
                {"transform": [{"filter": "datum.ep == 25"}], "mark": {"type": "point", "filled": false, "size": 14, "strokeWidth": 0.9, "opacity": 0.9}},
                {"transform": [{"filter": "datum.ep == 150"}], "mark": {"type": "point", "shape": "circle", "filled": false, "size": 60, "strokeWidth": 1.1, "opacity": 0.9}},
                {"transform": [{"filter": "datum.ep == 300"}], "mark": {"type": "point", "shape": "M0.955,-0.46L0.495,0L0.955,0.46L0.46,0.955L0,0.495L-0.46,0.955L-0.955,0.46L-0.495,0L-0.955,-0.46L-0.46,-0.955L0,-0.495L0.46,-0.955Z", "filled": false, "size": 95, "strokeWidth": 1.1, "opacity": 0.9}}
              ]},
            {"data": {"name": "best"}, "transform": [{"filter": "datum.p == 6"}],
              "encoding": {"y": {"field": "err", "type": "quantitative", "scale": {"domain": [40, 90], "nice": false, "zero": false}, "axis": {"values": [40, 60, 80], "title": null}}},
              "layer": [
                {"transform": [{"filter": "datum.kind == 'b150'"}], "mark": {"type": "point", "shape": "circle", "filled": true, "size": 65, "fill": "#1868a6", "stroke": "#0b2f4d", "strokeWidth": 1, "opacity": 1}},
                {"transform": [{"filter": "datum.kind == 'b300'"}], "mark": {"type": "point", "shape": "M0.955,-0.46L0.495,0L0.955,0.46L0.46,0.955L0,0.495L-0.46,0.955L-0.955,0.46L-0.495,0L-0.955,-0.46L-0.46,-0.955L0,-0.495L0.46,-0.955Z", "filled": true, "size": 100, "fill": "#1868a6", "stroke": "#0b2f4d", "strokeWidth": 1, "opacity": 1}}
              ]}
          ]
        }
      ]
    }
  ]
}
